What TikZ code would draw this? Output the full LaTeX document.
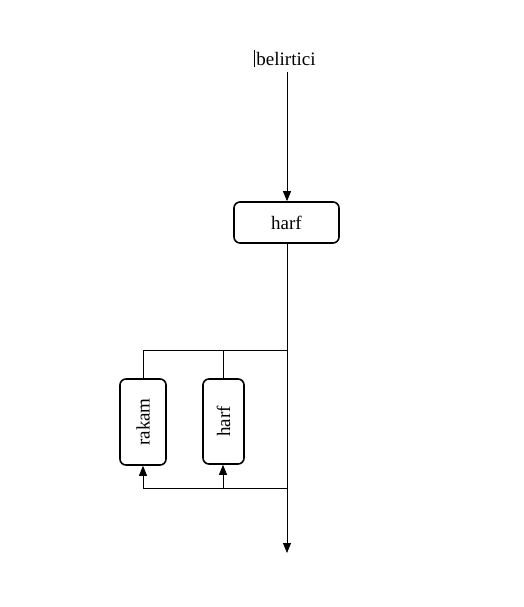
\documentclass[tikz,border=0pt]{standalone}
\usepackage{fontspec}
\setmainfont{Liberation Serif}
\usetikzlibrary{arrows.meta}
\begin{document}
\begin{tikzpicture}[x=1pt,y=1pt,
  box/.style={draw,line width=1.6pt,rounded corners=6pt,inner sep=0pt,font=\fontsize{19}{22}\selectfont},
  conn/.style={line width=0.8pt},
  arr/.style={conn,-{Triangle[width=8pt,length=10pt]}}]
\useasboundingbox (0,0) rectangle (524,-607);
\node[font=\fontsize{19}{22}\selectfont,inner sep=1pt] (top) at (286,-59) {belirtici};
\draw[line width=0.6pt] (254,-50) -- (254,-67);
\node[box,minimum width=105pt,minimum height=41pt] (harf) at (286.5,-222.5) {harf};
\node[box,minimum width=46pt,minimum height=86pt] (rakam) at (143,-422) {\rotatebox{90}{rakam}};
\node[box,minimum width=41pt,minimum height=85pt] (harfb) at (223.5,-421.5) {\rotatebox{90}{harf}};
\coordinate (a) at (287,-72);
\coordinate (end) at (287,-553);
\coordinate (j1) at (287,-350);
\coordinate (j2) at (287,-488);
\coordinate (k1) at (223,-350);
\coordinate (k2) at (223,-488);
\draw[arr] (a) -- (harf.north -| a);
\draw[arr] (harf.south -| a) -- (end);
\draw[conn] (j1) -| (rakam.north);
\draw[conn] (k1) -- (k1 |- harfb.north);
\draw[arr] (j2) -| (rakam.south);
\draw[arr] (k2) -- (k2 |- harfb.south);
\end{tikzpicture}
\end{document}
